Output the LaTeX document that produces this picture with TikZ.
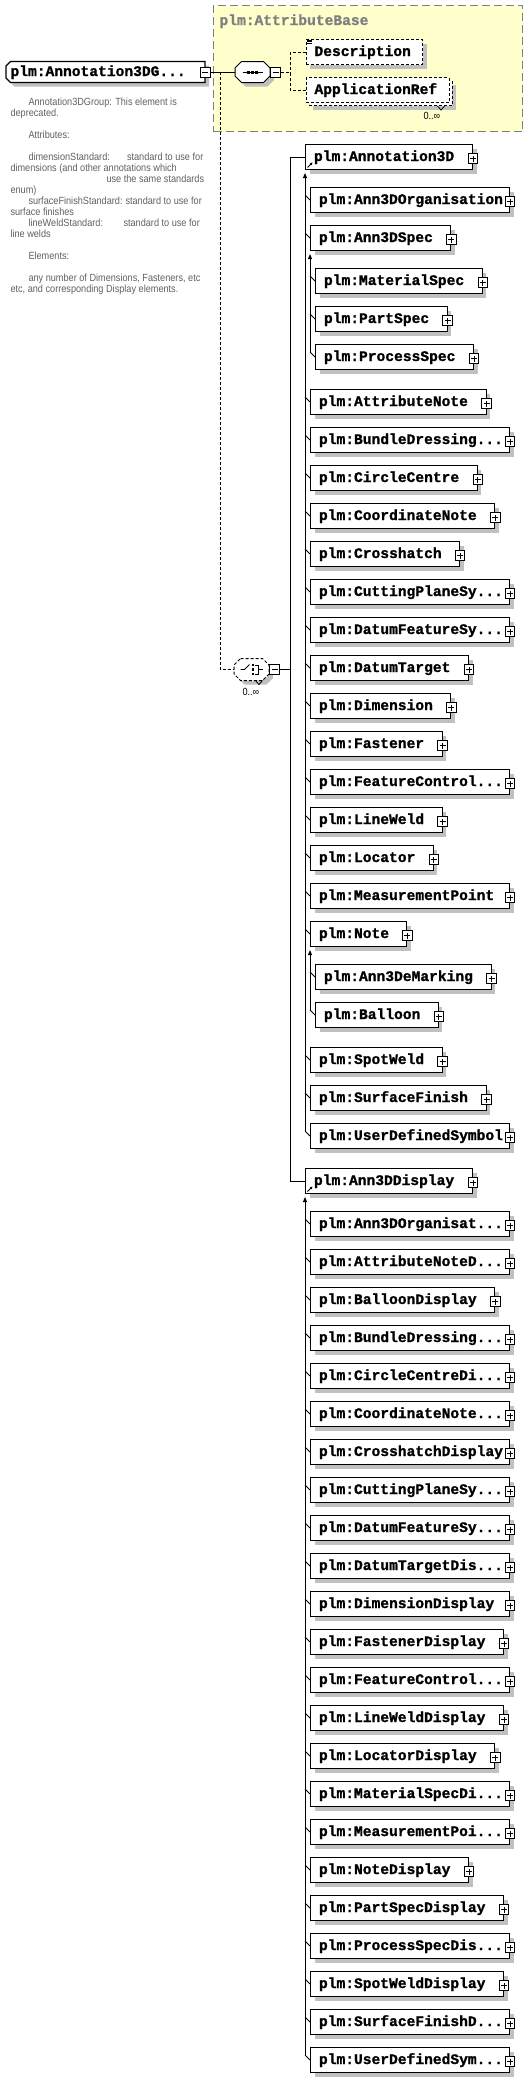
\documentclass[tikz,border=0pt]{standalone}
\usepackage{fontspec}
\setmainfont{Liberation Sans}
\newfontfamily\elemfont{Liberation Mono}[BoldFeatures={FakeBold=1.2}]
\newfontfamily\notefont{Liberation Sans}[FakeStretch=0.88]
\usetikzlibrary{shadows,arrows.meta}

\definecolor{attrfill}{RGB}{255,255,204}
\definecolor{attrline}{RGB}{128,128,128}
\definecolor{shade}{RGB}{192,192,192}
\definecolor{notegray}{RGB}{96,96,96}
\newcommand{\trdots}{...}
% octagon round a named node: options, node, chamfer
\newcommand{\compshape}[3]{%
	\draw[#1] ([xshift=#3]#2.north west) -- ([xshift=-#3]#2.north east) -- ([yshift=-#3]#2.north east)
		-- ([yshift=#3]#2.south east) -- ([xshift=-#3]#2.south east) -- ([xshift=#3]#2.south west)
		-- ([yshift=#3]#2.south west) -- ([yshift=-#3]#2.north west) -- cycle;}

\begin{document}
\begin{tikzpicture}[x=1pt, y=-1pt, line width=1pt]
			\tikzstyle{shad}     = [drop shadow={shadow xshift=4pt, shadow yshift=-4pt, fill=shade, opacity=1}]
			\tikzstyle{box}      = [rectangle, draw=black, fill=white, minimum height=25pt, inner sep=0pt, anchor=west]
			\tikzstyle{elem}     = [box, shad]
			\tikzstyle{optelem}  = [box, shad, densely dashed]
			\tikzstyle{comp}     = [rectangle, minimum width=34pt, minimum height=20pt, inner sep=0pt, anchor=west]
			\tikzstyle{lbl}      = [inner sep=0pt, anchor=base west, font=\elemfont\bfseries\fontsize{14.6pt}{16pt}\selectfont]
			\tikzstyle{note}     = [inner sep=0pt, anchor=base west, text=notegray, font=\notefont\fontsize{10.4pt}{11pt}\selectfont]
			\tikzstyle{mult}     = [inner sep=0pt, anchor=base west, font=\notefont\fontsize{10.4pt}{11pt}\selectfont]
			\tikzstyle{plusbox}  = [rectangle, draw=black, fill=white, solid, minimum size=9.5pt, inner sep=0pt,
				path picture={\draw[line width=0.8pt] ([xshift=-3pt]path picture bounding box.center) -- ([xshift=3pt]path picture bounding box.center)
					([yshift=-3pt]path picture bounding box.center) -- ([yshift=3pt]path picture bounding box.center);}]
			\tikzstyle{minusbox} = [rectangle, draw=black, fill=white, solid, minimum size=10pt, inner sep=0pt,
				path picture={\draw[line width=0.8pt] ([xshift=-3pt]path picture bounding box.center) -- ([xshift=3pt]path picture bounding box.center);}]
			\tikzstyle{subst}    = [-{Triangle[length=5pt,width=4pt]}]

			\useasboundingbox (0,0) rectangle (530,2085);

			% attribute group
			\node[draw=attrline, fill=attrfill, dash pattern=on 8pt off 4pt, minimum width=309pt, minimum height=126pt, inner sep=0pt, anchor=north west] (attr) at (213,5) {};
			\node[lbl, text=attrline] (attr-t) at (219,25) {plm:AttributeBase};

			% root element and compositors
			\node[comp, minimum width=198pt] (root) at (6,72) {};
			\draw[fill=white, shad, line width=1.2pt] ([xshift=4.5pt]root.north west) -- (root.north east) -- (root.south east)
				-- ([xshift=4.5pt]root.south west) -- ([yshift=4.5pt]root.south west) -- ([yshift=-4.5pt]root.north west) -- cycle;
			\node[lbl] (root-t) at ([xshift=4pt,yshift=-4pt]root.west) {plm:Annotation3DG\trdots};
			\node[minusbox] (root-m) at (root.east) {};

			\node[comp] (seq) at (235,72) {};
			\compshape{fill=white, shad}{seq}{6.5pt}
			\node[minusbox, anchor=west] (seq-m) at (seq.east) {};
			\draw ([xshift=-10pt]seq.center) -- ([xshift=10pt]seq.center);
			\foreach \dx in {-4pt,0pt,4pt}
				\fill ([xshift=\dx]seq.center) +(-1.5,-1.5) rectangle +(1.5,1.5);

			\node[optelem, minimum width=116.5pt] (desc) at (305.5,52) {};
			\node[lbl] (desc-t) at ([xshift=8.5pt,yshift=-4pt]desc.west) {Description};
			\foreach \dy in {1,2.6,4.2}
				\draw[line width=0.6pt] ([xshift=1pt]desc.north west) ++(0,\dy) -- ++(5,0);

			\node[optelem, minimum width=143pt] (appb) at (308.5,93) {};
			\node[box, densely dashed, minimum width=143pt] (appf) at (305.5,90) {};
			\node[lbl] (appf-t) at ([xshift=8.5pt,yshift=-4pt]appf.west) {ApplicationRef};
			\draw[line width=0.8pt] ([xshift=-15pt]appb.south east) -- ++(3.5,4) -- ++(3.5,-4);
			\node[mult] (appf-n) at (423,119.5) {0..∞};

			\node[comp, minimum height=21pt] (chc) at (234,669.5) {};
			\compshape{fill=white, shad, densely dashed}{chc}{6.5pt}
			\node[minusbox, anchor=west] (chc-m) at (chc.east) {};
			\draw[line width=0.8pt] ([xshift=-11pt]chc.center) -- ++(4,0) -- ++(5,-5);
			\foreach \dy in {-4.5pt,0pt,4.5pt}
				\fill ([xshift=1.5pt,yshift=\dy]chc.center) +(-1.3,-1.3) rectangle +(1.3,1.3);
			\draw[line width=0.8pt] ([xshift=3.5pt,yshift=4.5pt]chc.center) -| ([xshift=7pt,yshift=-4.5pt]chc.center) -- ++(-3.5,0)
				([xshift=7pt]chc.center) -- ++(4,0);
			\draw[line width=0.8pt] ([xshift=4pt]chc.south) -- ++(3.5,4) -- ++(3.5,-4);
			\node[mult] (chc-n) at (242,695) {0..∞};

			% elements of the choice
			\foreach \nm/\lx/\cy/\w/\lab in {a3d/305/157/167/plm:Annotation3D, org/310/200/199/plm:Ann3DOrganisation,
				spec/310/238/140.4/plm:Ann3DSpec, mat/315/281/166.8/plm:MaterialSpec, part/315/319/131.6/plm:PartSpec,
				proc/315/357/158/plm:ProcessSpec, attn/310/402/175.6/plm:AttributeNote, bund/310/440/199/plm:BundleDressing\trdots,
				circ/310/478/166.8/plm:CircleCentre, coord/310/516/184.4/plm:CoordinateNote, hatch/310/554/149.2/plm:Crosshatch,
				cut/310/592/199/plm:CuttingPlaneSy\trdots, dfs/310/630/199/plm:DatumFeatureSy\trdots, dtg/310/668/158/plm:DatumTarget,
				dim/310/706/140.4/plm:Dimension, fast/310/744/131.6/plm:Fastener, fcon/310/782/199/plm:FeatureControl\trdots,
				lweld/310/820/131.6/plm:LineWeld, loc/310/858/122.8/plm:Locator, mpt/310/896/199/plm:MeasurementPoint,
				note/310/934/96.4/plm:Note, emark/315/977/175.6/plm:Ann3DeMarking, ball/315/1015/122.8/plm:Balloon,
				sweld/310/1060/131.6/plm:SpotWeld, sfin/310/1098/175.6/plm:SurfaceFinish, uds/310/1136/199/plm:UserDefinedSymbol,
				a3dd/305/1181/167/plm:Ann3DDisplay, dorg/310/1224/199/plm:Ann3DOrganisat\trdots, dattn/310/1262/199/plm:AttributeNoteD\trdots,
				dball/310/1300/184.4/plm:BalloonDisplay, dbund/310/1338/199/plm:BundleDressing\trdots, dcirc/310/1376/199/plm:CircleCentreDi\trdots,
				dcoord/310/1414/199/plm:CoordinateNote\trdots, dhatch/310/1452/199/plm:CrosshatchDisplay, dcut/310/1490/199/plm:CuttingPlaneSy\trdots,
				ddfs/310/1528/199/plm:DatumFeatureSy\trdots, ddtg/310/1566/199/plm:DatumTargetDis\trdots, ddim/310/1604/199/plm:DimensionDisplay,
				dfast/310/1642/193.2/plm:FastenerDisplay, dfcon/310/1680/199/plm:FeatureControl\trdots, dlweld/310/1718/193.2/plm:LineWeldDisplay,
				dloc/310/1756/184.4/plm:LocatorDisplay, dmat/310/1794/199/plm:MaterialSpecDi\trdots, dmpt/310/1832/199/plm:MeasurementPoi\trdots,
				dnote/310/1870/158/plm:NoteDisplay, dpart/310/1908/193.2/plm:PartSpecDisplay, dproc/310/1946/199/plm:ProcessSpecDis\trdots,
				dsweld/310/1984/193.2/plm:SpotWeldDisplay, dsfin/310/2022/199/plm:SurfaceFinishD\trdots, duds/310/2060/199/plm:UserDefinedSym\trdots}
			{
				\node[elem, minimum width=\w*1pt] (\nm) at (\lx,\cy) {};
				\node[lbl] (\nm-t) at ([xshift=8.5pt,yshift=-4pt]\nm.west) {\lab};
				\node[plusbox] (\nm-p) at ([yshift=-1.5pt]\nm.east) {};
			}

			% connectors
			\draw (root-m) -- (seq);
			\coordinate (rj) at (220,72);
			\draw[densely dashed] (rj) |- (chc);
			\coordinate (sj) at (290,72);
			\draw[densely dashed] (seq-m) -- (sj);
			\draw[densely dashed] (desc) -| (sj);
			\draw[densely dashed] (appf) -| (sj);
			\coordinate (cj) at (290,669.5);
			\draw (chc-m) -- (cj);
			\draw (a3d) -| (cj);
			\draw (a3dd) -| (cj);

			% substitution groups
			\foreach \top/\bot in {a3d/uds, spec/proc, note/ball, a3dd/duds}
				\draw[subst] ([xshift=-5pt,yshift=5pt]\bot.west) -- ([yshift=-3pt]\top.south west);
			\foreach \c in {org, spec, mat, part, proc, attn, bund, circ, coord, hatch, cut, dfs, dtg, dim, fast, fcon, lweld, loc, mpt, note,
				emark, ball, sweld, sfin, uds, dorg, dattn, dball, dbund, dcirc, dcoord, dhatch, dcut, ddfs, ddtg, ddim, dfast, dfcon, dlweld,
				dloc, dmat, dmpt, dnote, dpart, dproc, dsweld, dsfin, duds}
				\draw[line width=0.8pt] (\c.west) -- ++(-5,-5);
			\foreach \r in {a3d, a3dd}
				\draw[line width=0.8pt, -{Triangle[length=2.5pt,width=2.5pt]}] ([xshift=2.5pt,yshift=2.5pt]\r.south west) -- ++(5,-5);

			% documentation
			\foreach \nm/\x/\y/\txt in {n1/28/105.5/{Annotation3DGroup: This element is}, n2/10/116.5/{deprecated.},
				n3/28/138.5/{Attributes:}, n4/28/160.5/{dimensionStandard:}, n5/126.5/160.5/{standard to use for},
				n6/10/171.5/{dimensions (and other annotations which}, n7/106/182.5/{use the same standards}, n8/10/193.5/{enum)},
				n9/28/204.5/{surfaceFinishStandard:}, n10/125/204.5/{standard to use for}, n11/10/215.5/{surface finishes},
				n12/28/226.5/{lineWeldStandard:}, n13/123/226.5/{standard to use for}, n14/10/237.5/{line welds},
				n15/28/259.5/{Elements:}, n16/28/281.5/{any number of Dimensions, Fasteners, etc},
				n17/10/292.5/{etc, and corresponding Display elements.}}
				\node[note] (\nm) at (\x,\y) {\txt};
		\end{tikzpicture}
\end{document}
